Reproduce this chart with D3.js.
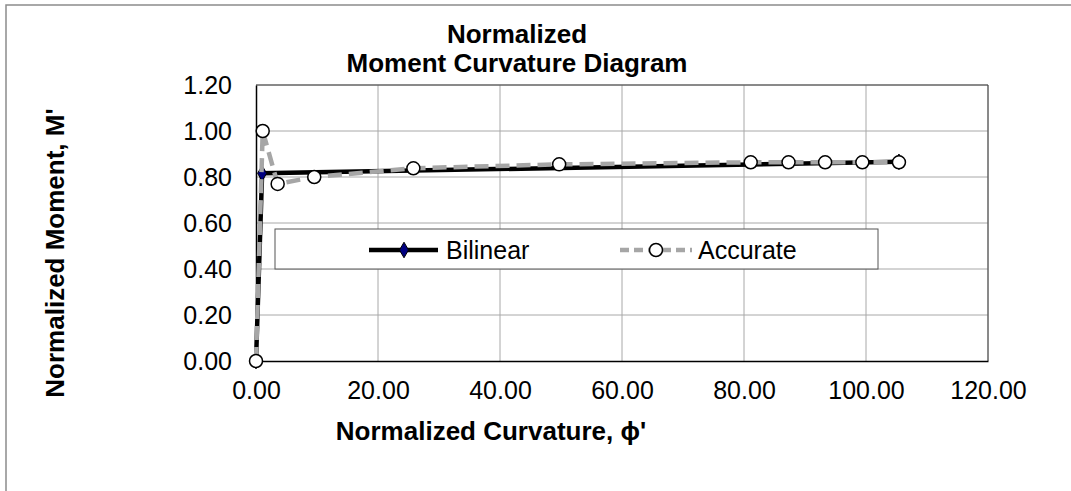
<!DOCTYPE html>
<html lang="en">
<head>
<meta charset="UTF-8">
<title>Normalized Moment Curvature Diagram</title>
<script src="https://cdn.jsdelivr.net/npm/d3@7"></script>
<style>
    body { margin: 0; background: #fff; }
    text { font-family: Arial, "Liberation Sans", sans-serif; fill: #000; }
</style>
</head>
<body>
<div id="chart"></div>
<script>
    // Data
    const bilinearX = [0, 1.0, 105.4];
    const bilinearY = [0, 0.816, 0.866];
    const accurateX = [0, 1.1, 3.55, 9.55, 25.8, 49.7, 81.1, 87.3, 93.3, 99.4, 105.4];
    const accurateY = [0, 1.00, 0.77, 0.80, 0.838, 0.855, 0.864, 0.864, 0.864, 0.864, 0.864];
    const xTicks = [0, 20, 40, 60, 80, 100, 120];
    const yTicks = [0, 0.2, 0.4, 0.6, 0.8, 1.0, 1.2];

    const width = 1071, height = 491;
    const plot = { left: 256, right: 988, top: 85, bottom: 361 };

    const svg = d3.select('#chart').append('svg')
        .attr('width', width)
        .attr('height', height);

    // outer chart frame (only top/left edges visible)
    svg.append('rect')
        .attr('x', 6).attr('y', 5)
        .attr('width', width + 20).attr('height', height + 20)
        .attr('fill', 'none')
        .attr('stroke', '#8c8c8c')
        .attr('stroke-width', 1.5);

    const x = d3.scaleLinear().domain([0, 120]).range([plot.left, plot.right]);
    const y = d3.scaleLinear().domain([0, 1.2]).range([plot.bottom, plot.top]);

    // gridlines
    const grid = svg.append('g').attr('stroke', '#a8a8a8').attr('stroke-width', 1);
    grid.selectAll('.vg').data(xTicks.slice(1)).join('line')
        .attr('x1', d => x(d)).attr('x2', d => x(d))
        .attr('y1', plot.top).attr('y2', plot.bottom);
    grid.selectAll('.hg').data(yTicks.slice(1)).join('line')
        .attr('x1', plot.left).attr('x2', plot.right)
        .attr('y1', d => y(d)).attr('y2', d => y(d));

    // plot frame
    svg.append('path')
        .attr('d', `M${plot.left},${plot.top}H${plot.right}V${plot.bottom}`)
        .attr('fill', 'none').attr('stroke', '#404040').attr('stroke-width', 1);

    // axes
    const xAxis = svg.append('g')
        .attr('transform', `translate(0,${plot.bottom})`)
        .call(d3.axisBottom(x).tickValues(xTicks).tickFormat(d3.format('.2f')).tickSize(0).tickPadding(20));
    const yAxis = svg.append('g')
        .attr('transform', `translate(${plot.left},0)`)
        .call(d3.axisLeft(y).tickValues(yTicks).tickFormat(d3.format('.2f')).tickSize(0).tickPadding(24));
    [xAxis, yAxis].forEach(a => {
        a.select('.domain').attr('stroke', '#000').attr('stroke-width', 1.5);
        a.selectAll('text').attr('font-size', 25).attr('font-family', 'Arial, "Liberation Sans", sans-serif');
    });

    // legend box
    const legend = svg.append('g');
    legend.append('rect')
        .attr('x', 275).attr('y', 229).attr('width', 603).attr('height', 40)
        .attr('fill', '#fff').attr('stroke', '#555').attr('stroke-width', 1);

    const bilinear = bilinearX.map((d, i) => [d, bilinearY[i]]);
    const accurate = accurateX.map((d, i) => [d, accurateY[i]]);
    const line = d3.line().x(d => x(d[0])).y(d => y(d[1]));

    const diamond = d3.symbol().type(d3.symbolDiamond).size(70);

    // Bilinear series
    svg.append('path')
        .attr('d', line(bilinear))
        .attr('fill', 'none').attr('stroke', '#000').attr('stroke-width', 4.5);
    svg.append('g').selectAll('path').data(bilinear).join('path')
        .attr('d', diamond)
        .attr('transform', d => `translate(${x(d[0])},${y(d[1])})`)
        .attr('fill', '#000080').attr('stroke', '#000').attr('stroke-width', 1);

    // Accurate series
    svg.append('path')
        .attr('d', line(accurate))
        .attr('fill', 'none').attr('stroke', '#a6a6a6').attr('stroke-width', 4.5)
        .attr('stroke-dasharray', '14,7');
    svg.append('g').selectAll('circle').data(accurate).join('circle')
        .attr('cx', d => x(d[0])).attr('cy', d => y(d[1])).attr('r', 6.5)
        .attr('fill', '#fff').attr('stroke', '#000').attr('stroke-width', 1.5);

    // legend entries
    const ly = 250;
    legend.append('line').attr('x1', 369).attr('x2', 438).attr('y1', ly).attr('y2', ly)
        .attr('stroke', '#000').attr('stroke-width', 4.5);
    legend.append('path').attr('d', diamond).attr('transform', `translate(404,${ly})`)
        .attr('fill', '#000080').attr('stroke', '#000').attr('stroke-width', 1);
    legend.append('text').attr('x', 446).attr('y', ly).attr('dy', '0.35em')
        .attr('font-size', 25).text('Bilinear');
    legend.append('line').attr('x1', 620).attr('x2', 692).attr('y1', ly).attr('y2', ly)
        .attr('stroke', '#a6a6a6').attr('stroke-width', 4.5).attr('stroke-dasharray', '9,5');
    legend.append('circle').attr('cx', 656).attr('cy', ly).attr('r', 6.5)
        .attr('fill', '#fff').attr('stroke', '#000').attr('stroke-width', 1.5);
    legend.append('text').attr('x', 698).attr('y', ly).attr('dy', '0.35em')
        .attr('font-size', 25).text('Accurate');

    // titles
    const title = svg.append('text').attr('x', 517).attr('text-anchor', 'middle')
        .attr('font-size', 26).attr('font-weight', 'bold');
    title.append('tspan').attr('x', 517).attr('y', 43).text('Normalized');
    title.append('tspan').attr('x', 517).attr('y', 72).text('Moment Curvature Diagram');

    svg.append('text')
        .attr('x', 491).attr('y', 440).attr('text-anchor', 'middle')
        .attr('font-size', 26).attr('font-weight', 'bold')
        .text("Normalized Curvature, \u03d5'");

    svg.append('text')
        .attr('transform', 'translate(64,253) rotate(-90)')
        .attr('text-anchor', 'middle')
        .attr('font-size', 26).attr('font-weight', 'bold')
        .text("Normalized Moment, M'");
</script>
</body>
</html>
